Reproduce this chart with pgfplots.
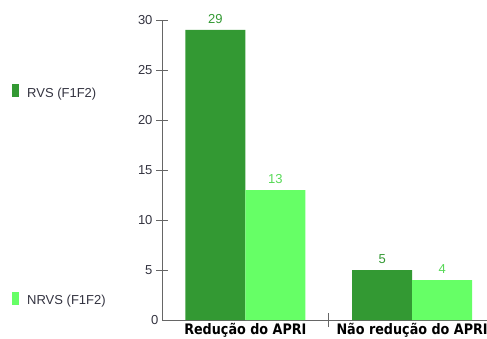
\documentclass[border=0pt]{standalone}
\usepackage{pgfplots}
\pgfplotsset{compat=1.18}
\usepackage{fontspec}
\setmainfont{Liberation Sans}
\newfontfamily\catfont[FakeStretch=0.88]{DejaVu Sans}
\definecolor{rvs}{HTML}{339933}
\definecolor{nrvs}{HTML}{66FF66}
\definecolor{axisgray}{HTML}{666666}
\definecolor{txtgray}{HTML}{333340}

\begin{document}
\begin{tikzpicture}[x=1pt,y=1pt]
\path[use as bounding box] (0,0) rectangle (487,338);
\begin{scope}
\clip (0,0) rectangle (487,338);
\begin{axis}[
  at={(162pt,18pt)}, anchor=south west,
  scale only axis, width=325pt, height=300pt,
  xmin=-0.5, xmax=1.449, ymin=0, ymax=30,
  axis lines*=left,
  axis line style={axisgray, line width=0.9pt},
  ybar=0pt, bar width=60pt,
  xtick={0,1},
  xticklabels={Redução do APRI, Não redução do APRI},
  major x tick style={draw=none},
  minor xtick={0.5},
  minor tick length=14pt,
  ytick={5,10,...,30},
  extra y ticks={0},
  extra y tick style={major tick length=0pt},
  major tick length=12pt,
  tick align=center,
  tick style={axisgray, line width=0.9pt},
  /pgf/number format/assume math mode=true,
  yticklabel style={font=\fontsize{13}{13}\selectfont, text=txtgray},
  xticklabel style={font=\catfont\bfseries\fontsize{14.5}{14.5}\selectfont,
    text=black, anchor=base, yshift=-8pt},
  nodes near coords,
  every node near coord/.append style={font=\fontsize{13}{13}\selectfont, yshift=3pt},
  clip=false,
]
\addplot[fill=rvs, draw=none, every node near coord/.append style={text=rvs}]
  coordinates {(0,29) (1,5)};
\addplot[fill=nrvs, draw=none, every node near coord/.append style={text=nrvs!85!black}]
  coordinates {(0,13) (1,4)};
\end{axis}
\end{scope}
% legend entries
\fill[rvs] (12,241) rectangle (19,254);
\node[anchor=base west, inner sep=0pt, text=txtgray, font=\fontsize{13}{13}\selectfont] at (27,240.5) {RVS (F1F2)};
\fill[nrvs] (12,33) rectangle (19,46);
\node[anchor=base west, inner sep=0pt, text=txtgray, font=\fontsize{13}{13}\selectfont] at (27,33.5) {NRVS (F1F2)};
\end{tikzpicture}
\end{document}
